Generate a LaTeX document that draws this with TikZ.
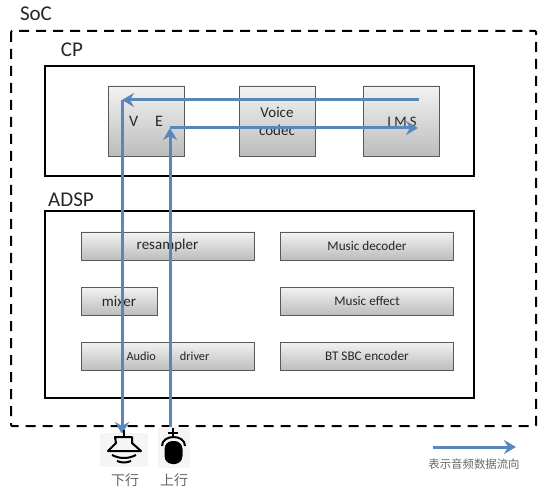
\documentclass[tikz,border=0pt]{standalone}
\usepackage{fontspec}
\setmainfont{Carlito}
\newfontfamily\cjk{Noto Sans CJK SC}
\usetikzlibrary{positioning,arrows.meta,shadows}
\definecolor{flowblue}{HTML}{5A87BA}
\tikzset{
  areabox/.style={rectangle, draw=black, line width=1.9pt},
  areatext/.style={font=\fontsize{21}{24}\selectfont, text=black!85},
  modbox/.style={rectangle, draw=black!65, line width=0.8pt, top color=black!5, bottom color=black!26, drop shadow={shadow xshift=0.8pt, shadow yshift=-1pt, fill=black!40, opacity=0.5}, inner sep=0pt, align=center, font=\fontsize{15}{18}\selectfont, text=black!85},
  cpbox/.style={modbox, minimum width=76pt, minimum height=70pt},
  widebox/.style={modbox, minimum width=173pt, minimum height=28pt},
  flowarrow/.style={-{Stealth[length=12pt,width=14pt,inset=4pt]}, flowblue, line width=3pt},
  captext/.style={font=\cjk\fontsize{14}{16}\selectfont, text=black!60, inner sep=0pt},
  iconback/.style={fill=black!4, draw=none},
  iconline/.style={draw=black, line width=2pt}
}
\begin{document}
\begin{tikzpicture}[x=1pt,y=-1pt]
\useasboundingbox (0,0) rectangle (551,494);
\draw[black, line width=2pt, dash pattern=on 10pt off 7pt, rounded corners=1pt] (11,31) rectangle (536,426);
\node[areatext] (soclabel) at (36,14) {SoC};
\node[areabox, minimum width=429pt, minimum height=110pt] (cp) at (259.5,121) {};
\node[areatext] (cplabel) at (72,50) {CP};
\node[areabox, minimum width=429pt, minimum height=187pt] (adsp) at (259.5,304.5) {};
\node[areatext] (adsplabel) at (71,200) {ADSP};
% CP modules
\node[cpbox] (ve) at (146,121) {\fontsize{16}{18}\selectfont V\hspace{17pt}E};
\node[cpbox] (codec) at (277,121) {Voice\\codec};
\node[cpbox] (ims) at (401.5,121) {};
\node[font=\fontsize{14.5}{16}\selectfont, text=black!85] (imstext) at (402,122) {I M S};
% ADSP modules
\node[widebox] (resampler) at (167.5,246) {resampler};
\node[modbox, minimum width=76pt, minimum height=28pt] (mixer) at (119,301) {mixer};
\node[widebox, font=\fontsize{12.3}{15}\selectfont] (audio) at (167.5,356) {\hspace{1pt}Audio\hspace{24pt}driver};
\foreach \name/\y/\label in {decoder/246/Music decoder,effect/301/Music effect,sbc/356/BT SBC encoder}{
\node[widebox, font=\fontsize{13.2}{15}\selectfont] (\name) at (367,\y) {\label};}
% data flow
\coordinate (downstart) at (419,100);
\coordinate (downturn) at (122,100);
\coordinate (downend) at (122,434);
\coordinate (upstart) at (170,427);
\coordinate (upturn) at (170,128);
\coordinate (upend) at (418,128);
\coordinate (legendstart) at (433,447);
\coordinate (legendend) at (516,447);
\draw[flowarrow] (downstart) -- (downturn);
\draw[flowarrow] (downturn) -- (downend);
\draw[flowarrow] (upstart) -- (upturn);
\draw[flowarrow] (upturn) -- (upend);
\draw[flowarrow] (legendstart) -- (legendend);
\node[captext, font=\cjk\fontsize{11.4}{13}\selectfont] (legendtext) at (474,464) {表示音频数据流向};
% speaker
\fill[iconback] (100,433) rectangle (148,467);
\draw[iconline] (124,430) -- (124,437);
\draw[iconline, line join=round] (115,437) -- (132,437) -- (132,443) -- (141,451) -- (108,451) -- (116,443) -- cycle;
\draw[iconline] (112,455) .. controls (120,459) and (128,459) .. (136,455);
\draw[iconline] (117,461) .. controls (122,463) and (126,463) .. (131,461);
\node[captext] (downtext) at (125,480) {下行};
% microphone
\fill[iconback] (158,427) rectangle (190,468);
\draw[iconline] (173,428) -- (173,437);
\draw[iconline] (168,433) -- (178,433);
\draw[iconline] (162,446) .. controls (162,434) and (185,434) .. (185,446);
\fill[black, rounded corners=8pt] (164.5,441) rectangle (182.5,464);
\node[captext] (uptext) at (174,480) {上行};
\end{tikzpicture}
\end{document}
